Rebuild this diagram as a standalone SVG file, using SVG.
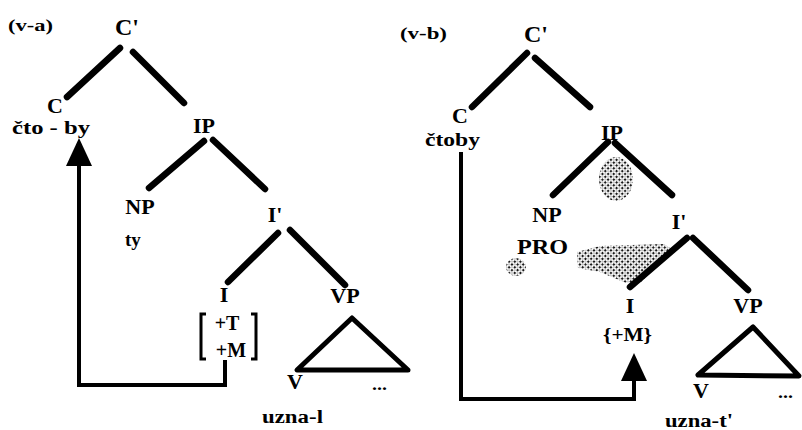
<svg xmlns="http://www.w3.org/2000/svg" width="802" height="430" viewBox="0 0 802 430">
  <style>
    .lbl { font-family: "Liberation Serif", "Times New Roman", serif; font-weight: bold; fill: #000; }
    .node { font-size: 22px; text-anchor: middle; }
    .top { font-size: 24px; text-anchor: middle; }
    .word { font-size: 19px; }
    .feat { font-size: 20px; text-anchor: middle; }
    .branch { stroke: #000; stroke-width: 6.5; stroke-linecap: round; fill: none; }
    .tri { stroke: #000; stroke-width: 5; stroke-linejoin: round; fill: none; }
    .move { stroke: #000; stroke-width: 4; fill: none; stroke-linejoin: miter; }
    .brk { stroke: #000; stroke-width: 3; fill: none; }
    .shade { fill: url(#dots); }
  </style>
  <defs>
    <marker id="head" viewBox="0 0 28 26" refX="0" refY="13" markerWidth="28" markerHeight="26" markerUnits="userSpaceOnUse" orient="auto">
      <path d="M0,0 L28,13 L0,26 Z" fill="#000"/>
    </marker>
    <!-- halftone screen used for the shaded areas -->
    <pattern id="dots" width="4" height="4" patternUnits="userSpaceOnUse" patternTransform="rotate(45)">
      <circle cx="1" cy="1" r="1.2" fill="#111"/>
      <circle cx="3" cy="3" r="0.7" fill="#666"/>
    </pattern>
  </defs>

  <rect width="802" height="430" fill="#fff"/>

  <!-- shaded areas in tree (v-b) -->
  <g id="shading">
    <ellipse class="shade" cx="616" cy="179" rx="17" ry="22"/>
    <path class="shade" d="M577,252 L600,246 L664,244 L673,250 L640,283 L626,283 L600,272 L578,268 Z"/>
    <ellipse class="shade" cx="516" cy="267" rx="10" ry="9"/>
  </g>

  <!-- branches and movement arrows -->
  <g id="connectors">
    <line class="branch" x1="120" y1="48" x2="67" y2="97"/>
    <line class="branch" x1="133" y1="52" x2="184" y2="103"/>
    <line class="branch" x1="204" y1="141" x2="149" y2="188"/>
    <line class="branch" x1="213" y1="140" x2="265" y2="189"/>
    <line class="branch" x1="278" y1="233" x2="228" y2="282"/>
    <line class="branch" x1="290" y1="230" x2="345" y2="285"/>
    <path class="move" d="M225,360 V385 H79 V166" marker-end="url(#head)"/>

    <line class="branch" x1="527" y1="53" x2="472" y2="107"/>
    <line class="branch" x1="535" y1="58" x2="590" y2="107"/>
    <line class="branch" x1="608" y1="142" x2="553" y2="195"/>
    <line class="branch" x1="615" y1="143" x2="672" y2="195"/>
    <line class="branch" x1="687" y1="238" x2="630" y2="287"/>
    <line class="branch" x1="693" y1="238" x2="748" y2="290"/>
    <path class="move" d="M461,152 V399 H634 V381" marker-end="url(#head)"/>
  </g>

  <!-- tree (v-a) -->
  <g id="label-va"><text class="lbl" x="8" y="31" font-size="17" textLength="45" lengthAdjust="spacingAndGlyphs">(v-a)</text></g>
  <g id="a-Cbar"><text class="lbl top" x="127" y="35">C'</text></g>
  <g id="a-C">
    <text class="lbl node" x="55" y="113">C</text>
    <text class="lbl" x="12" y="134" font-size="18" textLength="78" lengthAdjust="spacingAndGlyphs">čto - by</text>
  </g>
  <g id="a-IP"><text class="lbl node" x="204" y="133">IP</text></g>
  <g id="a-NP">
    <text class="lbl node" x="140" y="214">NP</text>
    <text class="lbl word" x="125" y="246" font-size="20">ty</text>
  </g>
  <g id="a-Ibar"><text class="lbl node" x="275" y="222">I'</text></g>
  <g id="a-I">
    <text class="lbl node" x="224" y="302">I</text>
    <path class="brk" d="M206,314 H201 V359 H206"/>
    <path class="brk" d="M251,314 H256 V359 H251"/>
    <text class="lbl feat" x="227" y="330">+T</text>
    <text class="lbl feat" x="231" y="357">+M</text>
  </g>
  <g id="a-VP">
    <text class="lbl node" x="345" y="303">VP</text>
    <path class="tri" d="M352,318 L297,370 L408,370 Z"/>
    <text class="lbl node" x="295" y="389" font-size="18">V</text>
    <text class="lbl" x="372" y="390" font-size="16" textLength="15" lengthAdjust="spacingAndGlyphs">...</text>
    <text class="lbl" x="262" y="423" font-size="18" textLength="61" lengthAdjust="spacingAndGlyphs">uzna-l</text>
  </g>

  <!-- tree (v-b) -->
  <g id="label-vb"><text class="lbl" x="400" y="39" font-size="17" textLength="47" lengthAdjust="spacingAndGlyphs">(v-b)</text></g>
  <g id="b-Cbar"><text class="lbl top" x="536" y="42">C'</text></g>
  <g id="b-C">
    <text class="lbl node" x="460" y="123">C</text>
    <text class="lbl word" x="425" y="146" textLength="55" lengthAdjust="spacingAndGlyphs">čtoby</text>
  </g>
  <g id="b-IP"><text class="lbl node" x="612" y="140">IP</text></g>
  <g id="b-NP">
    <text class="lbl node" x="547" y="222">NP</text>
    <text class="lbl" x="517" y="254" font-size="21" textLength="51" lengthAdjust="spacingAndGlyphs">PRO</text>
  </g>
  <g id="b-Ibar"><text class="lbl node" x="679" y="229">I'</text></g>
  <g id="b-I">
    <text class="lbl node" x="630" y="313">I</text>
    <text class="lbl" x="603" y="341" font-size="19" textLength="49" lengthAdjust="spacingAndGlyphs">{+M}</text>
  </g>
  <g id="b-VP">
    <text class="lbl node" x="748" y="313">VP</text>
    <path class="tri" d="M753,327 L698,375 L799,376 Z"/>
    <text class="lbl node" x="701" y="398" font-size="18">V</text>
    <text class="lbl" x="778" y="398" font-size="16" textLength="15" lengthAdjust="spacingAndGlyphs">...</text>
    <text class="lbl" x="665" y="427" font-size="18" textLength="68" lengthAdjust="spacingAndGlyphs">uzna-t'</text>
  </g>
</svg>
